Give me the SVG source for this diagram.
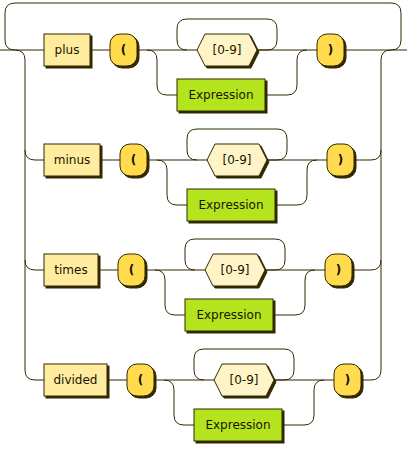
<svg xmlns="http://www.w3.org/2000/svg" width="407" height="450" viewBox="0 0 407 450">
<style>
.line{fill:none;stroke:#332900;stroke-width:1}
.shadow{fill:#332900;stroke:#332900;stroke-width:1}
.kw{fill:#FFEC9E;stroke:#332900;stroke-width:1}
.term{fill:#FFDB4D;stroke:#332900;stroke-width:1}
.rx{fill:#FFF4C7;stroke:#332900;stroke-width:1}
.nt{fill:#B4E41E;stroke:#332900;stroke-width:1}
text{font-family:"DejaVu Sans",Verdana,sans-serif;font-size:12px;fill:#1A1400;text-anchor:middle}
text.t{font-weight:bold;fill:#141000}
</style>
<rect width="407" height="450" fill="#FFFFFF"/>
<g id="connectors">
<path class="line" d="M0 50 H407"/>
<path class="line" d="M391 50 q10 0 10 -10 V13 q0 -10 -10 -10 H15 q-10 0 -10 10 V40 q0 10 10 10"/>
<path class="line" d="M15 50 q10 0 10 10 V370 q0 10 10 10 H371 q10 0 10 -10 V60 q0 -10 10 -10"/>
<path class="line" d="M25 150 q0 10 10 10 H371 q10 0 10 -10"/>
<path class="line" d="M25 260 q0 10 10 10 H371 q10 0 10 -10"/>
<path class="line" d="M257 50 H267 q10 0 10 -10 V29 q0 -10 -10 -10 H187 q-10 0 -10 10 V40 q0 10 10 10"/>
<path class="line" d="M147 50 q10 0 10 10 V85 q0 10 10 10 H287 q10 0 10 -10 V60 q0 -10 10 -10"/>
<path class="line" d="M267 160 H277 q10 0 10 -10 V139 q0 -10 -10 -10 H197 q-10 0 -10 10 V150 q0 10 10 10"/>
<path class="line" d="M157 160 q10 0 10 10 V195 q0 10 10 10 H297 q10 0 10 -10 V170 q0 -10 10 -10"/>
<path class="line" d="M265 270 H275 q10 0 10 -10 V249 q0 -10 -10 -10 H195 q-10 0 -10 10 V260 q0 10 10 10"/>
<path class="line" d="M155 270 q10 0 10 10 V305 q0 10 10 10 H295 q10 0 10 -10 V280 q0 -10 10 -10"/>
<path class="line" d="M274 380 H284 q10 0 10 -10 V359 q0 -10 -10 -10 H204 q-10 0 -10 10 V370 q0 10 10 10"/>
<path class="line" d="M164 380 q10 0 10 10 V415 q0 10 10 10 H304 q10 0 10 -10 V390 q0 -10 10 -10"/>
</g>
<g id="plus"><rect class="shadow" x="46" y="36" width="46" height="32"/><rect class="kw" x="44" y="34" width="46" height="32"/><text x="67" y="54">plus</text></g>
<g id="lparen1"><rect class="shadow" x="112" y="36" width="27" height="32" rx="10"/><rect class="term" x="110" y="34" width="27" height="32" rx="10"/><text class="t" x="123.5" y="54">(</text></g>
<g id="digits1"><polygon class="shadow" points="199,52 207,36 251,36 259,52 251,68 207,68"/><polygon class="rx" points="197,50 205,34 249,34 257,50 249,66 205,66"/><text x="227" y="54">[0-9]</text></g>
<g id="expr1"><rect class="shadow" x="179" y="81" width="88" height="32"/><rect class="nt" x="177" y="79" width="88" height="32"/><text x="221" y="99">Expression</text></g>
<g id="rparen1"><rect class="shadow" x="319" y="36" width="27" height="32" rx="10"/><rect class="term" x="317" y="34" width="27" height="32" rx="10"/><text class="t" x="330.5" y="54">)</text></g>

<g id="minus"><rect class="shadow" x="46" y="146" width="56" height="32"/><rect class="kw" x="44" y="144" width="56" height="32"/><text x="72" y="164">minus</text></g>
<g id="lparen2"><rect class="shadow" x="122" y="146" width="27" height="32" rx="10"/><rect class="term" x="120" y="144" width="27" height="32" rx="10"/><text class="t" x="133.5" y="164">(</text></g>
<g id="digits2"><polygon class="shadow" points="209,162 217,146 261,146 269,162 261,178 217,178"/><polygon class="rx" points="207,160 215,144 259,144 267,160 259,176 215,176"/><text x="237" y="164">[0-9]</text></g>
<g id="expr2"><rect class="shadow" x="189" y="191" width="88" height="32"/><rect class="nt" x="187" y="189" width="88" height="32"/><text x="231" y="209">Expression</text></g>
<g id="rparen2"><rect class="shadow" x="329" y="146" width="27" height="32" rx="10"/><rect class="term" x="327" y="144" width="27" height="32" rx="10"/><text class="t" x="340.5" y="164">)</text></g>

<g id="times"><rect class="shadow" x="46" y="256" width="54" height="32"/><rect class="kw" x="44" y="254" width="54" height="32"/><text x="71" y="274">times</text></g>
<g id="lparen3"><rect class="shadow" x="120" y="256" width="27" height="32" rx="10"/><rect class="term" x="118" y="254" width="27" height="32" rx="10"/><text class="t" x="131.5" y="274">(</text></g>
<g id="digits3"><polygon class="shadow" points="207,272 215,256 259,256 267,272 259,288 215,288"/><polygon class="rx" points="205,270 213,254 257,254 265,270 257,286 213,286"/><text x="235" y="274">[0-9]</text></g>
<g id="expr3"><rect class="shadow" x="187" y="301" width="88" height="32"/><rect class="nt" x="185" y="299" width="88" height="32"/><text x="229" y="319">Expression</text></g>
<g id="rparen3"><rect class="shadow" x="327" y="256" width="27" height="32" rx="10"/><rect class="term" x="325" y="254" width="27" height="32" rx="10"/><text class="t" x="338.5" y="274">)</text></g>

<g id="divided"><rect class="shadow" x="46" y="366" width="63" height="32"/><rect class="kw" x="44" y="364" width="63" height="32"/><text x="75.5" y="384">divided</text></g>
<g id="lparen4"><rect class="shadow" x="129" y="366" width="27" height="32" rx="10"/><rect class="term" x="127" y="364" width="27" height="32" rx="10"/><text class="t" x="140.5" y="384">(</text></g>
<g id="digits4"><polygon class="shadow" points="216,382 224,366 268,366 276,382 268,398 224,398"/><polygon class="rx" points="214,380 222,364 266,364 274,380 266,396 222,396"/><text x="244" y="384">[0-9]</text></g>
<g id="expr4"><rect class="shadow" x="196" y="411" width="88" height="32"/><rect class="nt" x="194" y="409" width="88" height="32"/><text x="238" y="429">Expression</text></g>
<g id="rparen4"><rect class="shadow" x="336" y="366" width="27" height="32" rx="10"/><rect class="term" x="334" y="364" width="27" height="32" rx="10"/><text class="t" x="347.5" y="384">)</text></g>
</svg>
